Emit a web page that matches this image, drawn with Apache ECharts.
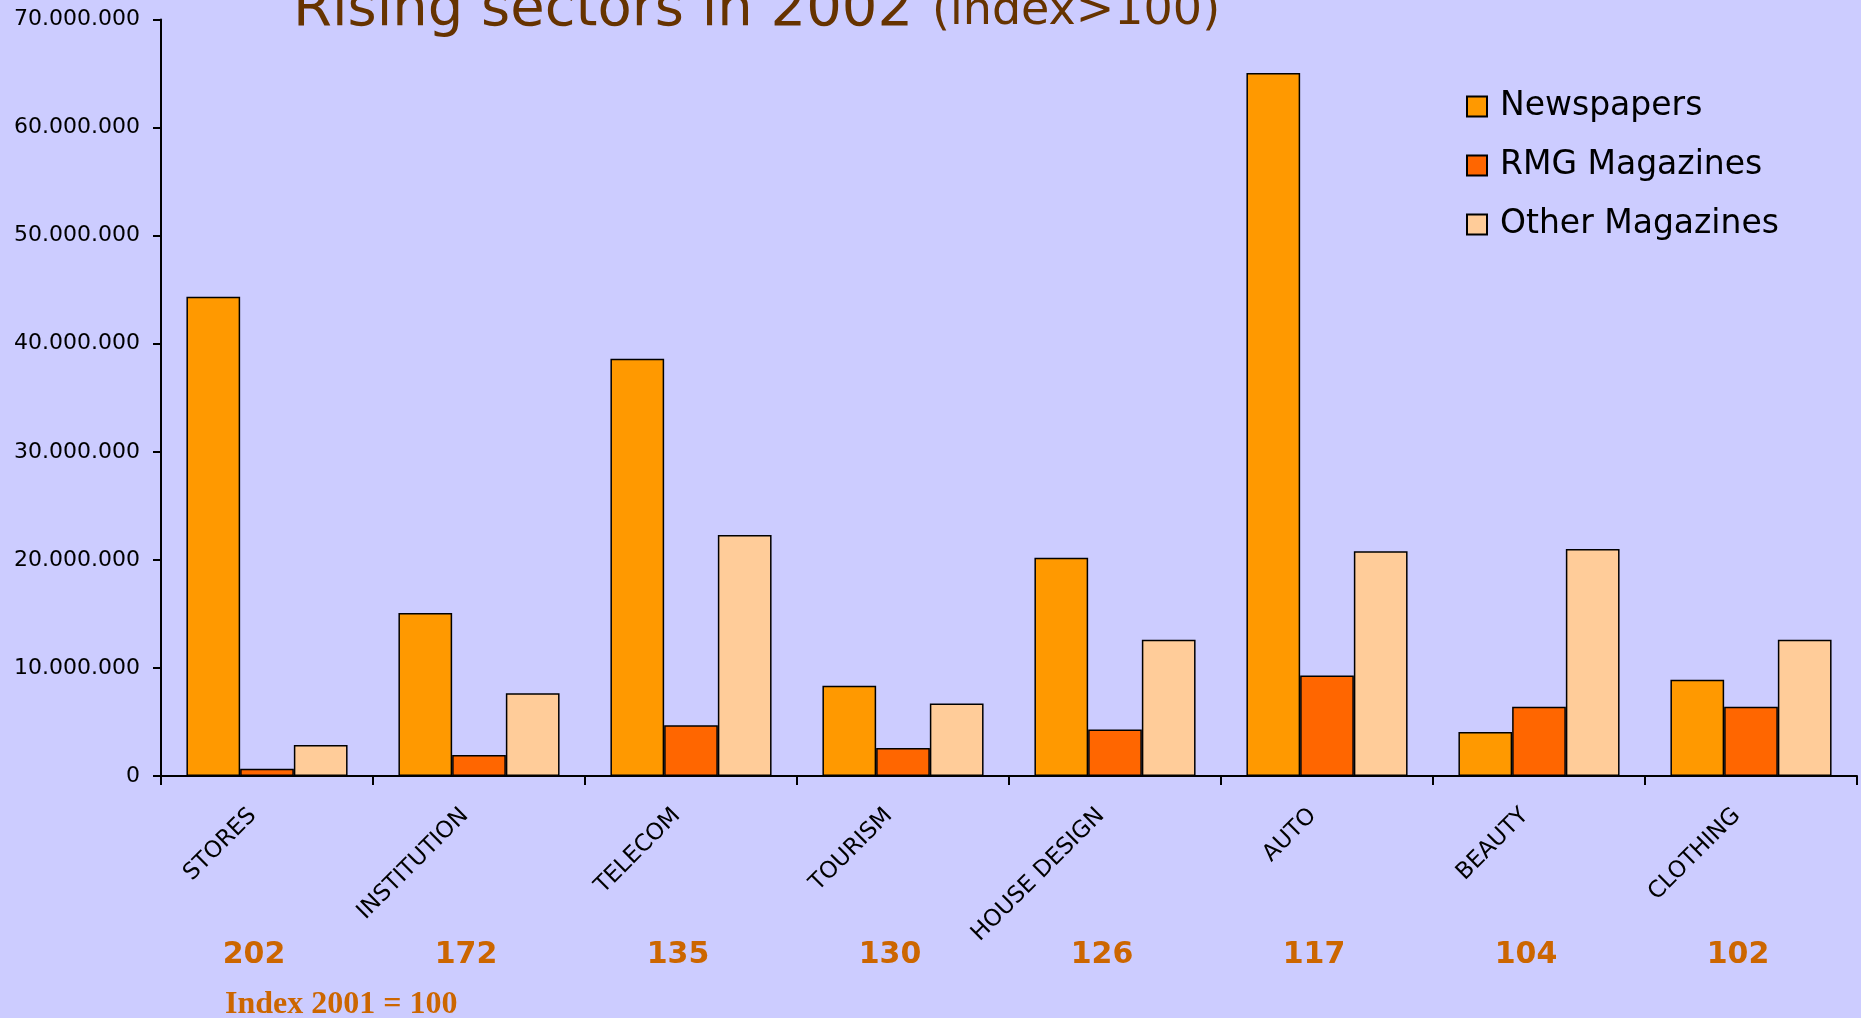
<!DOCTYPE html>
<html>
<head>
<meta charset="utf-8">
<script src="https://cdn.jsdelivr.net/npm/echarts@6/dist/echarts.min.js"></script>
<style>
html,body{margin:0;padding:0;background:#CCCCFF;}
#chart{width:1861px;height:1018px;}
</style>
</head>
<body>
<div id="chart"></div>
<script>
const categories = ['STORES','INSTITUTION','TELECOM','TOURISM','HOUSE DESIGN','AUTO','BEAUTY','CLOTHING'];
const newspapers = [44350000, 15080000, 38600000, 8350000, 20200000, 65050000, 4070000, 8900000];
const rmgMagazines = [680000, 1940000, 4700000, 2600000, 4300000, 9300000, 6400000, 6400000];
const otherMagazines = [2870000, 7650000, 22300000, 6700000, 12600000, 20800000, 21000000, 12600000];
const indexValues = ['202','172','135','130','126','117','104','102'];
const titleMain = 'Rising sectors in 2002';
const titleSub = '(index>100)';
const indexNote = 'Index 2001 = 100';

const chart = echarts.init(document.getElementById('chart'));
const fmt = v => String(v).replace(/\B(?=(\d{3})+(?!\d))/g, '.');
const barBorder = {borderColor:'#000', borderWidth:1.5};

chart.setOption({
  backgroundColor:'#CCCCFF',
  animation:false,
  textStyle:{fontFamily:'DejaVu Sans'},
  graphic:[
    {type:'text', left:293, top:-18, style:{text:titleMain, font:'56px "DejaVu Sans"', fill:'#663300'}},
    {type:'text', left:932, top:-11, style:{text:titleSub, font:'46px "DejaVu Sans"', fill:'#663300'}},
    {type:'text', left:225, top:989, style:{text:indexNote, font:'bold 32px "Liberation Serif"', fill:'#CC6600'}}
  ],
  legend:{
    orient:'vertical', left:1461, top:85,
    itemWidth:20, itemHeight:20, itemGap:26,
    icon:'rect',
    textStyle:{fontSize:33, color:'#000', fontFamily:'DejaVu Sans', padding:[0,0,0,8]},
    data:['Newspapers','RMG Magazines','Other Magazines']
  },
  grid:{left:161, right:4, top:19.5, bottom:242, containLabel:false},
  xAxis:[{
    type:'category', data:categories, boundaryGap:true,
    axisLine:{lineStyle:{color:'#000', width:2}},
    axisTick:{show:true, length:9, lineStyle:{color:'#000', width:2}},
    axisLabel:{rotate:45, margin:22, fontSize:23, color:'#000', fontFamily:'DejaVu Sans', interval:0, padding:[0,20,0,0]}
  },{
    type:'category', data:categories, position:'bottom', offset:164,
    axisLine:{show:false}, axisTick:{show:false},
    axisLabel:{margin:0, interval:0, fontSize:30, fontWeight:'bold', color:'#CC6600', fontFamily:'DejaVu Sans',
      padding:[0,26,0,0], formatter:(v,i)=>indexValues[i]}
  }],
  yAxis:{
    type:'value', min:0, max:70000000, interval:10000000,
    splitLine:{show:false},
    axisLine:{show:true, lineStyle:{color:'#000', width:2}},
    axisTick:{show:true, length:8, lineStyle:{color:'#000', width:2}},
    axisLabel:{margin:21, fontSize:22, color:'#000', fontFamily:'DejaVu Sans', formatter:fmt}
  },
  series:[
    {name:'Newspapers', type:'bar', data:newspapers, barGap:'0%', barCategoryGap:'24%', itemStyle:Object.assign({color:'#FF9900'}, barBorder)},
    {name:'RMG Magazines', type:'bar', data:rmgMagazines, barGap:'0%', barCategoryGap:'24%', itemStyle:Object.assign({color:'#FF6600'}, barBorder)},
    {name:'Other Magazines', type:'bar', data:otherMagazines, barGap:'0%', barCategoryGap:'24%', itemStyle:Object.assign({color:'#FFCC99'}, barBorder)}
  ]
});
</script>
</body>
</html>
